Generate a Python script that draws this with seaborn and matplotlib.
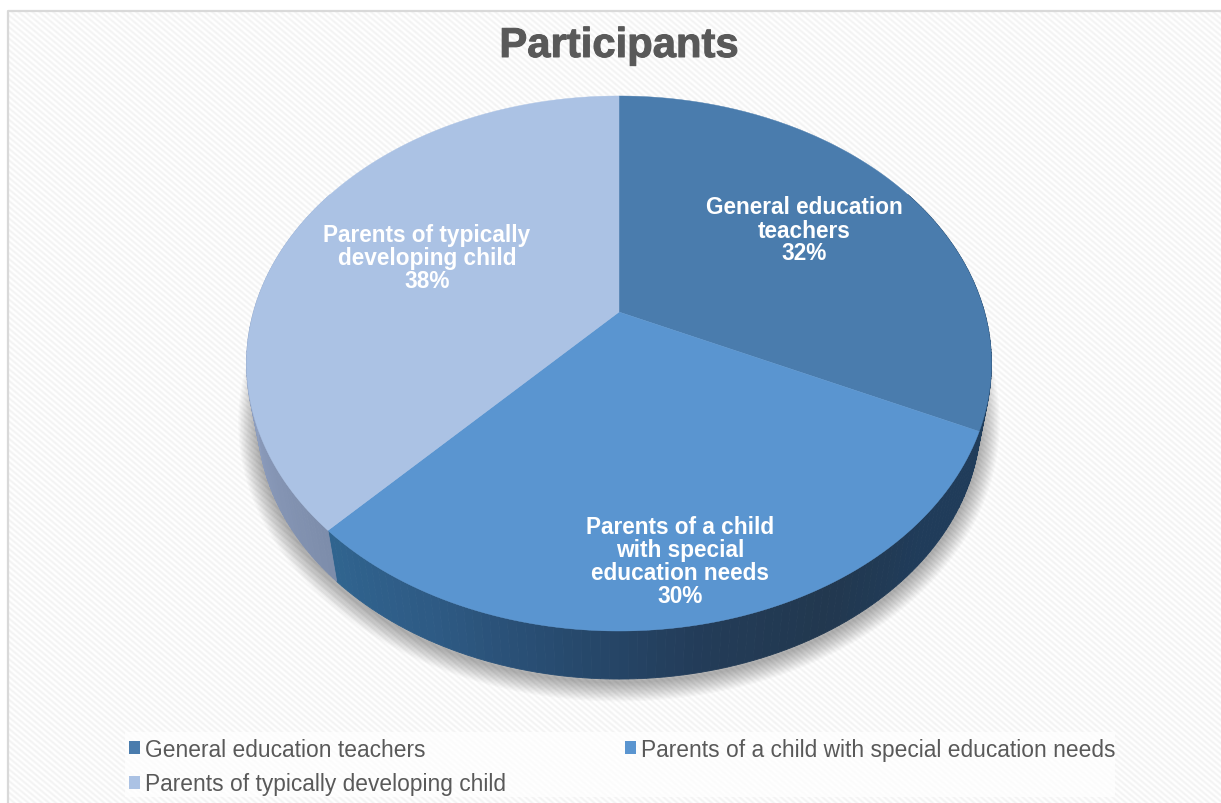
import numpy as np
import matplotlib
matplotlib.use("Agg")
import matplotlib.pyplot as plt
import matplotlib.patheffects as pe
from matplotlib.patches import Patch, Rectangle
import seaborn as sns

# Survey composition
categories = ["General education teachers",
              "Parents of a child with special education needs",
              "Parents of typically developing child"]
shares = [32, 30, 38]
wedge_labels = ["General education\nteachers",
                "Parents of a child\nwith special\neducation needs",
                "Parents of typically\ndeveloping child"]
title = "Participants"

top_colors = ["#4a7cad", "#5a95d0", "#abc2e4"]
wall_ramps = [["#1f3f5e", "#203d5b"],
              ["#203c5a", "#203c5a", "#22384f", "#233c58", "#274a6e", "#2e5a84", "#30648f"],
              ["#7d8dab", "#8a9aba", "#9cafce", "#a6bcdd"]]

sns.set_theme(style="white")
plt.rcParams["font.family"] = ["Liberation Sans", "DejaVu Sans"]

W, H = 1221, 804
fig = plt.figure(figsize=(W / 100, H / 100), dpi=100, facecolor="white")
ax = fig.add_axes([0, 0, 1, 1])
ax.set_xlim(0, W)
ax.set_ylim(H, 0)
ax.axis("off")

# Chart-area texture: fine diagonal pinstripes
yy, xx = np.mgrid[0:H, 0:W]
stripes = 0.975 + 0.022 * np.cos(2 * np.pi * (0.84 * xx - yy) / 5.8)
stripes[:11, :] = 1.0
stripes[:, :7] = 1.0
ax.imshow(stripes, cmap="gray", vmin=0, vmax=1, extent=(0, W, H, 0),
          aspect="auto", interpolation="bilinear", zorder=0)
ax.plot([8, 8, W], [H, 12, 12], color="#d9d9d9", lw=1.6, zorder=1)

# Perspective disc: a unit circle tilted away from the viewer
cx, cy = 619.0, 313.0
rx, ry, tilt = 365.5, 257.6, 0.1925
wall_scale, wall_drop = 0.97, 57.6


def rim(theta):
    x, y = np.sin(theta), np.cos(theta)
    d = 1 + tilt * y
    return cx + rx * x / d, cy - ry * y / d


def lower(px, py):
    return cx + wall_scale * (px - cx), cy + wall_scale * (py - cy) + wall_drop


edges = np.deg2rad(np.cumsum([0] + shares) * 3.6)

# Soft drop shadow under the pie
all_t = np.linspace(0, 2 * np.pi, 400)
sx, sy = lower(*rim(all_t))
for lw in np.linspace(28, 2, 14):
    ax.plot(sx, sy + 3, color="black", lw=lw, alpha=0.022, zorder=2,
            solid_joinstyle="round")

# Side wall, back to front, shaded along the rim
front_from, front_to = np.deg2rad(60), np.deg2rad(300)
for i in range(len(shares)):
    t0, t1 = max(edges[i], front_from), min(edges[i + 1], front_to)
    n = 90
    ts = np.linspace(t0, t1, n + 1)
    ramp = sns.blend_palette(wall_ramps[i], n)
    for k in range(n):
        seg = np.linspace(ts[k], ts[k + 1], 3)
        ux, uy = rim(seg)
        lx, ly = lower(ux, uy)
        ax.fill(np.r_[ux, lx[::-1]], np.r_[uy, ly[::-1]], color=ramp[k],
                lw=0.6, zorder=3)

# Top surface wedges
for i in range(len(shares)):
    t = np.linspace(edges[i], edges[i + 1], 200)
    px, py = rim(t)
    ax.fill(np.r_[cx, px], np.r_[cy, py], color=top_colors[i], lw=0.3, zorder=4)

# Wedge labels
label_xy = [(804, 231), (680, 562.5), (427, 258.5)]
for (lx, ly), txt, v in zip(label_xy, wedge_labels, shares):
    ax.text(lx, ly, f"{txt}\n{v}%", color="white", fontsize=16.3,
            fontweight="bold", ha="center", va="center", linespacing=1.0,
            zorder=5)

ax.text(619, 47, title, color="#595959", fontsize=30.1, fontweight="bold",
        ha="center", va="center", zorder=5,
        path_effects=[pe.withStroke(linewidth=0.7, foreground="#595959")])

# Legend, filled row by row over a pale panel
ax.add_patch(Rectangle((125, 733), 990, 65, facecolor="white", alpha=0.7,
                       edgecolor="none", zorder=1.5))
order = [0, 2, 1]
handles = [Patch(facecolor=top_colors[i], edgecolor="none", label=categories[i])
           for i in order]
ax.legend(handles=handles, ncols=2, frameon=False, loc="upper left",
          bbox_to_anchor=(129, 739), bbox_transform=ax.transData,
          fontsize=16.4, labelcolor="#595959", handlelength=0.5, handleheight=0.5,
          handletextpad=0.22, columnspacing=5.2, labelspacing=0.5,
          borderpad=0, borderaxespad=0)

fig.savefig("out.png", dpi=100, facecolor="white")
